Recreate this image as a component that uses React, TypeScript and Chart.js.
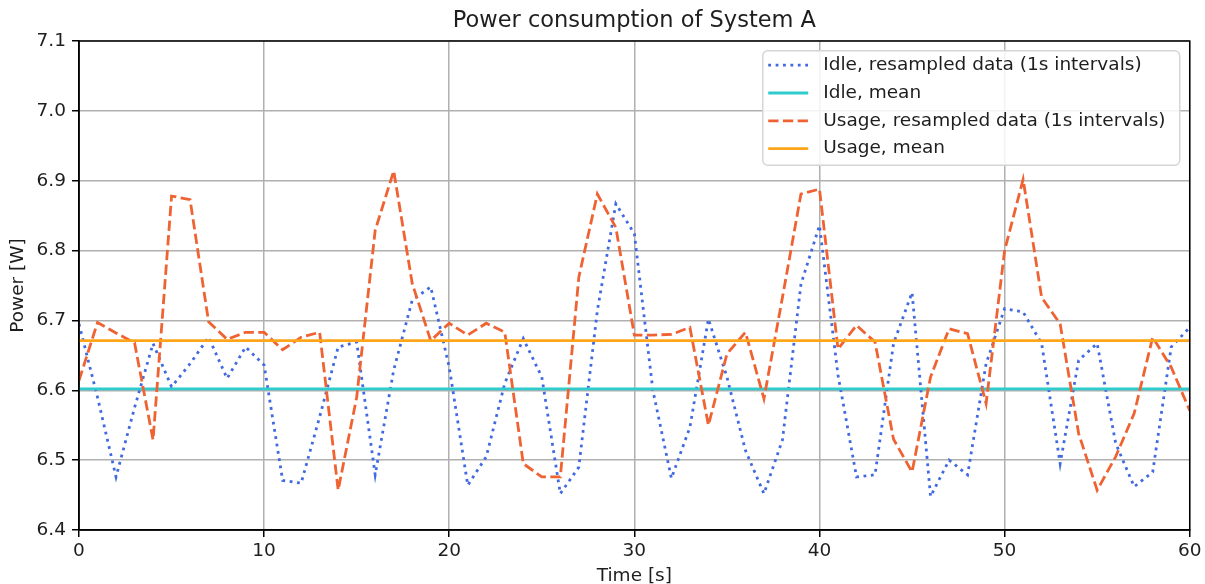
import React, { useEffect, useRef } from "react";
import { Chart, registerables } from "chart.js";

Chart.register(...registerables);

const seconds = [
  0, 1, 2, 3, 4, 5, 6, 7, 8, 9, 10, 11, 12, 13, 14, 15, 16, 17, 18, 19, 20,
  21, 22, 23, 24, 25, 26, 27, 28, 29, 30, 31, 32, 33, 34, 35, 36, 37, 38, 39,
  40, 41, 42, 43, 44, 45, 46, 47, 48, 49, 50, 51, 52, 53, 54, 55, 56, 57, 58,
  59, 60,
];

const idlePower = [
  6.695, 6.59, 6.476, 6.575, 6.667, 6.605, 6.638, 6.676, 6.617, 6.662, 6.636,
  6.471, 6.467, 6.562, 6.662, 6.669, 6.479, 6.629, 6.729, 6.748, 6.633,
  6.464, 6.505, 6.61, 6.674, 6.619, 6.452, 6.49, 6.714, 6.867, 6.824,
  6.6, 6.474, 6.547, 6.702, 6.619, 6.514, 6.452, 6.529, 6.752, 6.836,
  6.622, 6.476, 6.479, 6.667, 6.74, 6.448, 6.5, 6.479, 6.638, 6.717,
  6.712, 6.667, 6.495, 6.643, 6.667, 6.524, 6.462, 6.483, 6.662, 6.69,
];

const usagePower = [
  6.614, 6.697, 6.682, 6.668, 6.529, 6.878, 6.873, 6.698, 6.673, 6.683, 6.683,
  6.658, 6.676, 6.683, 6.457, 6.59, 6.829, 6.914, 6.753, 6.671, 6.696,
  6.679, 6.696, 6.683, 6.495, 6.476, 6.476, 6.762, 6.881, 6.833, 6.679,
  6.679, 6.68, 6.69, 6.55, 6.652, 6.683, 6.588, 6.733, 6.881, 6.888,
  6.659, 6.693, 6.669, 6.53, 6.483, 6.619, 6.688, 6.681, 6.581, 6.8,
  6.902, 6.733, 6.695, 6.538, 6.457, 6.505, 6.567, 6.676, 6.633, 6.571,
];

const idleMean = 6.602;
const usageMean = 6.671;
const meanSpan = [0, 60];

const xTicks = [0, 10, 20, 30, 40, 50, 60];
const yTicks = [6.4, 6.5, 6.6, 6.7, 6.8, 6.9, 7.0, 7.1];

const seriesLabels = [
  "Idle, resampled data (1s intervals)",
  "Idle, mean",
  "Usage, resampled data (1s intervals)",
  "Usage, mean",
];

const FONT = '"DejaVu Sans", "Liberation Sans", sans-serif';
const TEXT = "#1e1e1e";

const framePlugin = {
  id: "frame",
  afterDatasetsDraw(chart: any) {
    const { ctx, chartArea } = chart;
    ctx.save();
    ctx.strokeStyle = "#000";
    ctx.lineWidth = 1.5;
    ctx.setLineDash([]);
    ctx.strokeRect(
      chartArea.left,
      chartArea.top,
      chartArea.right - chartArea.left,
      chartArea.bottom - chartArea.top
    );
    ctx.restore();
  },
};

const legendPlugin = {
  id: "boxLegend",
  afterDraw(chart: any) {
    const { ctx, chartArea } = chart;
    const ds = chart.data.datasets;
    const bw = 417;
    const bh = 114.5;
    const bx = chartArea.right - 10 - bw;
    const by = chartArea.top + 9.7;
    ctx.save();
    ctx.beginPath();
    if (ctx.roundRect) ctx.roundRect(bx, by, bw, bh, 5);
    else ctx.rect(bx, by, bw, bh);
    ctx.fillStyle = "rgba(255,255,255,0.85)";
    ctx.fill();
    ctx.strokeStyle = "#d6d6d6";
    ctx.lineWidth = 1.5;
    ctx.stroke();
    ds.forEach((d: any, i: number) => {
      const y = by + 14.5 + i * 27.8;
      ctx.beginPath();
      ctx.setLineDash(d.borderDash || []);
      ctx.lineCap = "butt";
      ctx.lineWidth = d.borderWidth;
      ctx.strokeStyle = d.borderColor;
      ctx.moveTo(bx + 5.5, y);
      ctx.lineTo(bx + 45.5, y);
      ctx.stroke();
      ctx.setLineDash([]);
      ctx.fillStyle = TEXT;
      ctx.font = `18.5px ${FONT}`;
      ctx.textBaseline = "middle";
      ctx.textAlign = "left";
      ctx.fillText(d.label, bx + 60.5, y);
    });
    ctx.restore();
  },
};

export default function App() {
  const ref = useRef<HTMLCanvasElement | null>(null);

  useEffect(() => {
    if (!ref.current) return;
    const toXY = (xs: number[], ys: number[]) =>
      xs.map((x, i) => ({ x, y: ys[i] }));

    const chart = new Chart(ref.current, {
      type: "line",
      data: {
        datasets: [
          {
            label: seriesLabels[0],
            data: toXY(seconds, idlePower),
            borderColor: "#4169e1",
            borderWidth: 2.8,
            borderDash: [2.8, 4.6],
            borderCapStyle: "butt",
            pointRadius: 0,
            tension: 0,
            fill: false,
            order: 4,
          },
          {
            label: seriesLabels[1],
            data: meanSpan.map((x) => ({ x, y: idleMean })),
            borderColor: "#2ecccc",
            borderWidth: 2.8,
            pointRadius: 0,
            fill: false,
            order: 3,
          },
          {
            label: seriesLabels[2],
            data: toXY(seconds, usagePower),
            borderColor: "#ef6232",
            borderWidth: 2.8,
            borderDash: [10.3, 4.4],
            borderCapStyle: "butt",
            pointRadius: 0,
            tension: 0,
            fill: false,
            order: 2,
          },
          {
            label: seriesLabels[3],
            data: meanSpan.map((x) => ({ x, y: usageMean })),
            borderColor: "#ffa51a",
            borderWidth: 2.8,
            pointRadius: 0,
            fill: false,
            order: 1,
          },
        ],
      },
      options: {
        animation: false,
        responsive: false,
        devicePixelRatio: 1,
        layout: { padding: { left: 0, right: 12, top: 0, bottom: 0 } },
        plugins: {
          legend: { display: false },
          tooltip: { enabled: false },
          title: {
            display: true,
            fullSize: false,
            text: "Power consumption of System A",
            color: TEXT,
            font: { family: FONT, size: 22.5, weight: "normal", lineHeight: 1.2 },
            padding: { top: 7.8, bottom: 6.2 },
          },
        },
        scales: {
          x: {
            type: "linear",
            min: 0,
            max: 60,
            afterFit: (s: any) => {
              s.height = 54;
            },
            afterBuildTicks: (s: any) => {
              s.ticks = xTicks.map((v) => ({ value: v }));
            },
            ticks: {
              color: TEXT,
              font: { family: FONT, size: 18.5 },
              padding: 3.5,
              maxRotation: 0,
              autoSkip: false,
              callback: (v: any) => String(v),
            },
            grid: {
              color: "#b0b0b0",
              lineWidth: 1.5,
              tickColor: "#000",
              tickWidth: 1.5,
              tickLength: 7,
            },
            border: { display: true, color: "#000", width: 1.5 },
            title: {
              display: true,
              text: "Time [s]",
              color: TEXT,
              font: { family: FONT, size: 18.5, lineHeight: 0.8 },
              padding: { top: 0, bottom: 0 },
            },
          },
          y: {
            type: "linear",
            min: 6.4,
            max: 7.1,
            afterFit: (s: any) => {
              s.width = 79;
            },
            afterBuildTicks: (s: any) => {
              s.ticks = yTicks.map((v) => ({ value: v }));
            },
            ticks: {
              color: TEXT,
              font: { family: FONT, size: 18.5 },
              padding: 6,
              autoSkip: false,
              callback: (v: any) => Number(v).toFixed(1),
            },
            grid: {
              color: "#b0b0b0",
              lineWidth: 1.5,
              tickColor: "#000",
              tickWidth: 1.5,
              tickLength: 7,
            },
            border: { display: true, color: "#000", width: 1.5 },
            title: {
              display: true,
              text: "Power [W]",
              color: TEXT,
              font: { family: FONT, size: 18.5, lineHeight: 1.2 },
              padding: { top: 7.4, bottom: 0 },
            },
          },
        },
      },
      plugins: [framePlugin, legendPlugin],
    } as any);

    return () => chart.destroy();
  }, []);

  return (
    <div
      style={{
        position: "absolute",
        left: 0,
        top: 0,
        width: 1205,
        height: 584,
        background: "#fff",
      }}
    >
      <canvas ref={ref} width={1205} height={584} />
    </div>
  );
}
